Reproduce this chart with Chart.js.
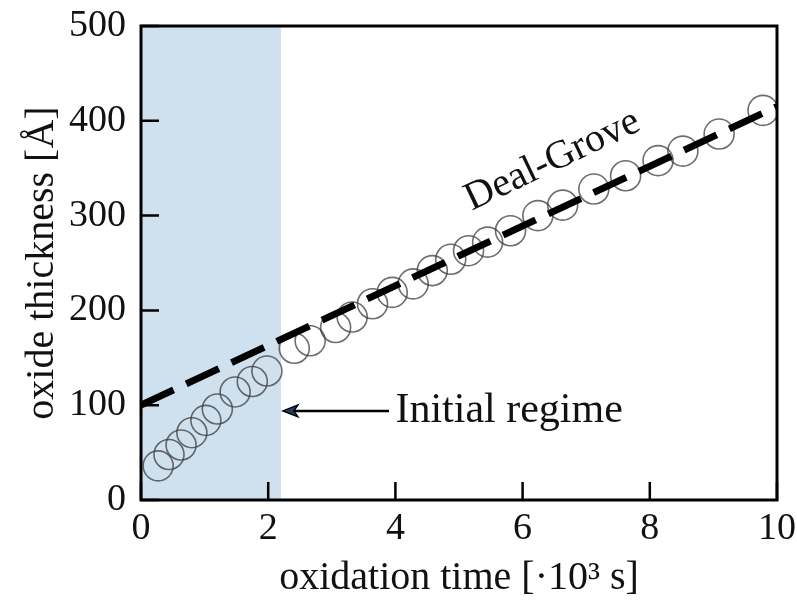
<!DOCTYPE html>
<html>
<head>
<meta charset="utf-8">
<script src="https://cdn.jsdelivr.net/npm/chart.js@4/dist/chart.umd.min.js"></script>
<style>
  html, body { margin: 0; padding: 0; background: #ffffff; }
  #wrap { width: 797px; height: 600px; }
</style>
</head>
<body>
<div id="wrap"><canvas id="c" width="797" height="600"></canvas></div>
<script>
// Measured oxide thickness [Å] versus oxidation time [10^3 s]
const timeK = [0.27, 0.44, 0.63, 0.80, 1.02, 1.20, 1.48, 1.75, 1.98,
               2.41, 2.66, 3.06, 3.32, 3.64, 3.95, 4.28, 4.58, 4.87,
               5.15, 5.45, 5.81, 6.24, 6.63, 7.12, 7.62, 8.13, 8.52,
               9.09, 9.78];
const thickness = [36, 48, 58, 71, 84, 96, 114, 125, 136,
                   160, 168, 182, 193, 207, 219, 228, 242, 254,
                   263, 272, 284, 300, 311, 328, 342, 358, 368,
                   386, 411];

// Linear Deal-Grove fit end points
const fitTime = [0, 10];
const fitThickness = [100, 415];

// Initial regime extends up to this time
const initialRegimeEnd = 2.2;

// Axis ticks
const xTicks = [0, 2, 4, 6, 8, 10];
const yTicks = [0, 100, 200, 300, 400, 500];

const SERIF = '"Liberation Serif", "Times New Roman", serif';

const measured = timeK.map((t, i) => ({ x: t, y: thickness[i] }));
const fit = fitTime.map((t, i) => ({ x: t, y: fitThickness[i] }));

const decorations = {
  id: 'decorations',
  beforeDatasetsDraw(chart) {
    const { ctx, chartArea: a, scales: { x } } = chart;
    ctx.save();
    ctx.fillStyle = '#cfe0ee';
    const x0 = x.getPixelForValue(0);
    const x1 = x.getPixelForValue(initialRegimeEnd);
    ctx.fillRect(x0, a.top, x1 - x0, a.bottom - a.top);
    ctx.restore();
  },
  afterDatasetsDraw(chart) {
    const { ctx, chartArea: a, scales: { x, y } } = chart;
    ctx.save();
    // inward tick marks on bottom and left
    ctx.strokeStyle = '#000';
    ctx.lineWidth = 2.5;
    ctx.beginPath();
    xTicks.forEach(v => {
      const px = x.getPixelForValue(v);
      ctx.moveTo(px, a.bottom);
      ctx.lineTo(px, a.bottom - 18);
    });
    yTicks.forEach(v => {
      const py = y.getPixelForValue(v);
      ctx.moveTo(a.left, py);
      ctx.lineTo(a.left + 18, py);
    });
    ctx.stroke();

    // frame
    ctx.lineWidth = 3;
    ctx.strokeRect(a.left, a.top, a.right - a.left, a.bottom - a.top);

    // "Initial regime" arrow and label
    const ay = y.getPixelForValue(94);
    const ax0 = x.getPixelForValue(3.9);
    const ax1 = x.getPixelForValue(initialRegimeEnd) + 2;
    ctx.lineWidth = 2.5;
    ctx.beginPath();
    ctx.moveTo(ax0, ay);
    ctx.lineTo(ax1 + 10, ay);
    ctx.stroke();
    ctx.beginPath();
    ctx.moveTo(ax1, ay);
    ctx.lineTo(ax1 + 15, ay - 6);
    ctx.lineTo(ax1 + 11, ay);
    ctx.lineTo(ax1 + 15, ay + 6);
    ctx.closePath();
    ctx.fillStyle = '#1d3d66';
    ctx.lineWidth = 1.4;
    ctx.fill();
    ctx.stroke();

    ctx.fillStyle = '#111';
    ctx.font = '42px ' + SERIF;
    ctx.textAlign = 'left';
    ctx.textBaseline = 'middle';
    ctx.fillText('Initial regime', x.getPixelForValue(4.0), ay);

    // "Deal-Grove" label along the fit line
    ctx.save();
    ctx.translate(x.getPixelForValue(6.47), y.getPixelForValue(358));
    ctx.rotate(-25.5 * Math.PI / 180);
    ctx.textAlign = 'center';
    ctx.font = '40px ' + SERIF;
    ctx.fillText('Deal-Grove', 0, 0);
    ctx.restore();

    ctx.restore();
  }
};

new Chart(document.getElementById('c'), {
  type: 'scatter',
  data: {
    datasets: [
      {
        label: 'Deal-Grove',
        type: 'line',
        data: fit,
        borderColor: '#000',
        borderWidth: 7,
        borderDash: [36, 14],
        borderCapStyle: 'butt',
        pointRadius: 0,
        fill: false,
        order: 0
      },
      {
        label: 'measured',
        data: measured,
        pointRadius: 15,
        pointHoverRadius: 15,
        pointBackgroundColor: 'rgba(0,0,0,0)',
        pointBorderColor: 'rgba(60,60,60,0.75)',
        pointBorderWidth: 1.6,
        order: 1
      }
    ]
  },
  options: {
    responsive: false,
    animation: false,
    events: [],
    layout: { padding: { left: 0, right: 20, top: 26, bottom: 0 } },
    plugins: { legend: { display: false }, tooltip: { enabled: false } },
    scales: {
      x: {
        type: 'linear',
        min: 0, max: 10,
        afterFit(s) {
          s.height = 100;
          s.paddingLeft = 0; s.paddingRight = 0;
          s.paddingTop = 0; s.paddingBottom = 0;
        },
        afterBuildTicks(s) { s.ticks = xTicks.map(v => ({ value: v })); },
        grid: { display: false, drawTicks: false },
        border: { display: false },
        ticks: { color: '#111', padding: 6, maxRotation: 0, font: { family: SERIF, size: 38 } },
        title: {
          display: true,
          text: 'oxidation time [·10³ s]',
          color: '#111',
          font: { family: SERIF, size: 40, lineHeight: 1.0 },
          padding: { top: 2, bottom: 2 }
        }
      },
      y: {
        type: 'linear',
        min: 0, max: 500,
        afterFit(s) {
          s.width = 141;
          s.paddingLeft = 0; s.paddingRight = 0;
          s.paddingTop = 0; s.paddingBottom = 0;
        },
        afterBuildTicks(s) { s.ticks = yTicks.map(v => ({ value: v })); },
        grid: { display: false, drawTicks: false },
        border: { display: false },
        ticks: { color: '#111', padding: 15, font: { family: SERIF, size: 38 } },
        title: {
          display: true,
          text: 'oxide thickness [Å]',
          color: '#111',
          font: { family: SERIF, size: 40, lineHeight: 1.0 },
          padding: { top: 22, bottom: 22 }
        }
      }
    }
  },
  plugins: [decorations]
});
</script>
</body>
</html>
